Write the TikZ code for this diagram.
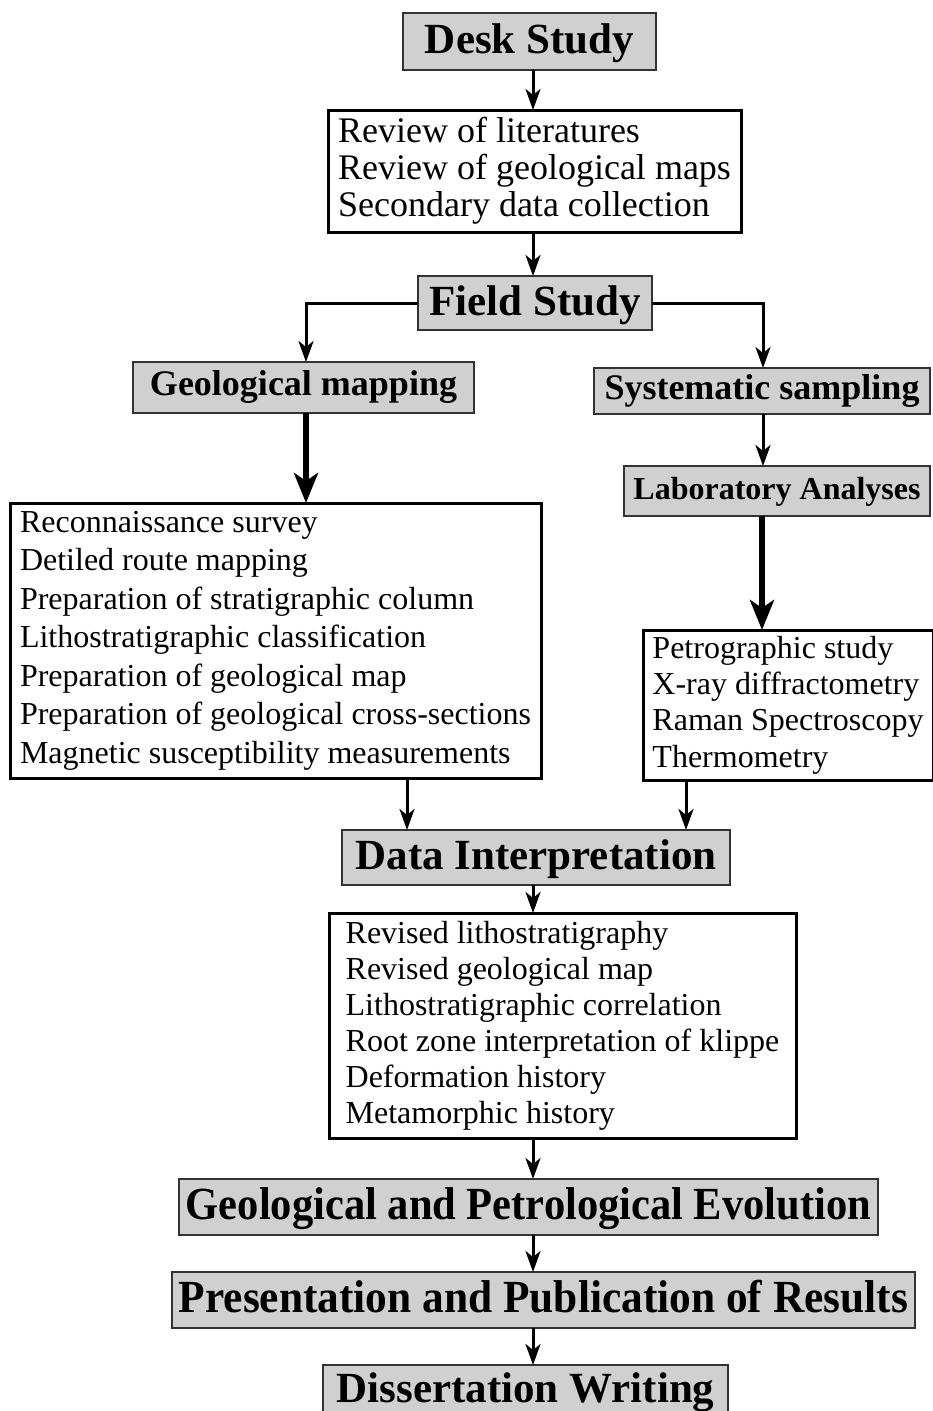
\documentclass[tikz,border=0pt]{standalone}
\usepackage{fontspec}
\setmainfont{Liberation Serif}
\usepackage{tikz}
\usetikzlibrary{positioning, arrows.meta}
\definecolor{boxgray}{RGB}{208,208,208}
\tikzset{
x=1pt, y=1pt, % one unit is one point
headbox/.style={draw=black!80, line width=2pt, fill=boxgray, inner sep=0pt, outer sep=0pt, text height=29pt, text depth=4.3pt, font=\bfseries\fontsize{43}{48}\selectfont}, % grey step boxes
subbox/.style={headbox, text height=24.5pt, text depth=8pt, font=\bfseries\fontsize{36}{40}\selectfont}, % smaller grey boxes
listbox/.style={draw, line width=3pt, align=left, inner xsep=4pt, inner ysep=0pt, outer sep=0pt, font=\fontsize{32}{38.5}\selectfont}, % white boxes with the tasks
arr/.style={line width=3pt, -{Stealth[length=21pt, width=15pt, inset=6pt]}}, % normal arrows
bigarr/.style={line width=6pt, -{Stealth[length=30pt, width=24pt, inset=8pt]}}, % bold arrows
}

\begin{document}
\begin{tikzpicture}
            \useasboundingbox (0,0) rectangle (933,-1411);
            \coordinate (axis) at (533,0);

            \node[headbox, minimum width=253pt, minimum height=57pt] (desk) at (529.5,-41.5) {Desk Study};
            \node[listbox, font=\fontsize{36}{37}\selectfont, minimum width=413pt, minimum height=122pt, below=40pt of desk, xshift=5pt] (review)
                {Review of literatures\\Review of geological maps\\Secondary data collection};
            \node[headbox, minimum width=234pt, minimum height=54pt, below=44pt of review, xshift=0.5pt] (field) {Field Study};
            \node[subbox, minimum width=341pt, minimum height=51pt, below=32pt of field, xshift=-231.5pt] (geomap) {Geological mapping};
            \node[subbox, minimum width=336pt, minimum height=46pt, below=38pt of field, xshift=227pt] (sampling) {Systematic sampling};
            \node[subbox, font=\bfseries\fontsize{32}{36}\selectfont, minimum width=306pt, minimum height=50pt, below=52pt of sampling, xshift=15pt] (lab) {Laboratory Analyses};
            \node[listbox, minimum width=531pt, minimum height=275pt, below=90pt of geomap, xshift=-28pt] (mapping)
                {Reconnaissance survey\\Detiled route mapping\\Preparation of stratigraphic column\\Lithostratigraphic classification\\Preparation of geological map\\Preparation of geological cross-sections\\Magnetic susceptibility measurements};
            \node[listbox, font=\fontsize{32}{36.3}\selectfont, minimum width=290pt, minimum height=150pt, below=114pt of lab, xshift=11pt] (petro)
                {Petrographic study\\X-ray diffractometry\\Raman Spectroscopy\\Thermometry};
            \node[headbox, minimum width=388pt, minimum height=55pt, below=52pt of mapping, xshift=260.5pt] (data) {Data Interpretation};
            \node[listbox, font=\fontsize{32}{36}\selectfont, minimum width=467pt, minimum height=225pt, below=28pt of data, xshift=26.5pt] (revised)
                {Revised lithostratigraphy\\Revised geological map\\Lithostratigraphic correlation\\Root zone interpretation of klippe\\Deformation history\\Metamorphic history};
            \node[headbox, font=\bfseries\fontsize{46}{50}\selectfont, minimum width=699pt, minimum height=56pt, below=41pt of revised, xshift=-34pt] (evolution)
                {\scalebox{0.924}[1]{Geological and Petrological Evolution}};
            \node[headbox, font=\bfseries\fontsize{46}{50}\selectfont, minimum width=743pt, minimum height=56pt, below=37pt of evolution, xshift=15pt] (results)
                {\scalebox{0.943}[1]{Presentation and Publication of Results}};
            \node[headbox, minimum width=405pt, minimum height=50pt, below=37pt of results, xshift=-18pt] (thesis) {Dissertation Writing};

            \draw[arr] (desk.south -| axis) -- (review.north -| axis);
            \draw[arr] (review.south -| axis) -- (field.north -| axis);
            \draw[arr] (field.west) -| ([xshift=2.5pt]geomap.north);
            \draw[arr] (field.east) -| ([xshift=1pt]sampling.north);
            \draw[arr] ([xshift=1pt]sampling.south) -- ([xshift=1pt]sampling.south |- lab.north);
            \draw[bigarr] ([xshift=-15pt]lab.south) -- ([xshift=-15pt]lab.south |- petro.north);
            \draw[bigarr] ([xshift=2.5pt]geomap.south) -- ([xshift=2.5pt]geomap.south |- mapping.north);
            \draw[arr] ([xshift=131.5pt]mapping.south) -- ([xshift=131.5pt]mapping.south |- data.north);
            \draw[arr] ([xshift=-102pt]petro.south) -- ([xshift=-102pt]petro.south |- data.north);
            \draw[arr] (data.south -| axis) -- (revised.north -| axis);
            \draw[arr] (revised.south -| axis) -- (evolution.north -| axis);
            \draw[arr] (evolution.south -| axis) -- (results.north -| axis);
            \draw[arr] (results.south -| axis) -- (thesis.north -| axis);
        \end{tikzpicture}
\end{document}
